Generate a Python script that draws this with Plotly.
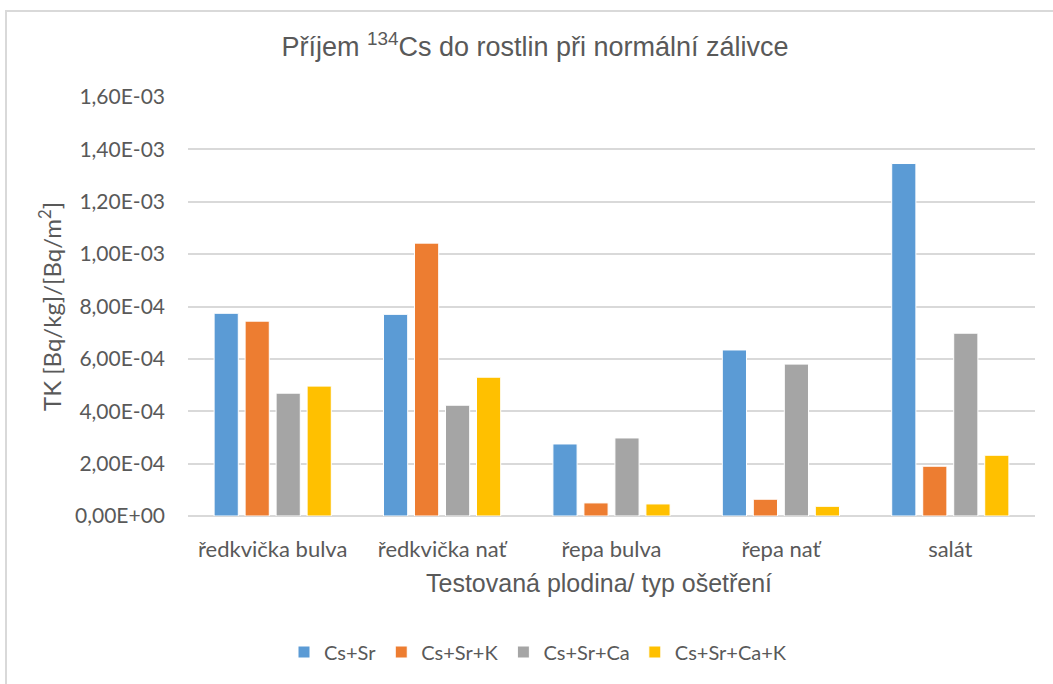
import plotly.graph_objects as go

categories = ["ředkvička bulva", "ředkvička nať", "řepa bulva", "řepa nať", "salát"]
series_names = ["Cs+Sr", "Cs+Sr+K", "Cs+Sr+Ca", "Cs+Sr+Ca+K"]
cs_sr = [7.74e-4, 7.70e-4, 2.75e-4, 6.34e-4, 1.346e-3]
cs_sr_k = [7.44e-4, 1.042e-3, 5.0e-5, 6.4e-5, 1.90e-4]
cs_sr_ca = [4.69e-4, 4.23e-4, 2.98e-4, 5.80e-4, 6.98e-4]
cs_sr_ca_k = [4.96e-4, 5.30e-4, 4.6e-5, 3.7e-5, 2.32e-4]
colors = ["#5B9BD5", "#ED7D31", "#A5A5A5", "#FFC000"]
tick_vals = [0, 2e-4, 4e-4, 6e-4, 8e-4, 1.0e-3, 1.2e-3, 1.4e-3, 1.6e-3]
tick_text = ["0,00E+00", "2,00E-04", "4,00E-04", "6,00E-04", "8,00E-04",
             "1,00E-03", "1,20E-03", "1,40E-03", "1,60E-03"]

W, H = 1053, 684
L, R, T, B = 188, 18, 97, 168
pw, ph = W - L - R, H - T - B

fig = go.Figure()
for name, vals, col in zip(series_names, [cs_sr, cs_sr_k, cs_sr_ca, cs_sr_ca_k], colors):
    fig.add_trace(go.Bar(x=categories, y=vals, name=name,
                         marker=dict(color=col, line=dict(color="white", width=1))))

txt = "#595959"
def px2paper_x(px):
    return (px - L) / pw
def py2paper_y(py):
    return (H - B - py) / ph

fig.update_layout(
    width=W, height=H,
    margin=dict(l=L, r=R, t=T, b=B),
    paper_bgcolor="white", plot_bgcolor="white",
    barmode="group", bargap=0.268, bargroupgap=0.22,
    title=dict(text="Příjem <sup>134</sup>Cs do rostlin při normální zálivce",
               font=dict(family="Liberation Sans, Arial", size=27, color=txt),
               x=535 / W, xanchor="center", xref="container",
               y=1 - 47 / H, yanchor="middle", yref="container"),
    xaxis=dict(showgrid=False, showline=False, ticks="", zeroline=False,
               tickfont=dict(family="Lato", size=22, color=txt),
               ticklabelstandoff=18),
    yaxis=dict(range=[0, 1.6e-3], tickvals=tick_vals, ticktext=tick_text,
               showgrid=True, gridcolor="#D9D9D9", gridwidth=1.5,
               zeroline=True, zerolinecolor="#D9D9D9", zerolinewidth=1.5,
               showline=False, ticks="",
               tickfont=dict(family="Lato", size=21, color=txt),
               ticklabelstandoff=22),
    legend=dict(orientation="h", x=px2paper_x(538), xanchor="center",
                y=py2paper_y(652), yanchor="middle",
                font=dict(family="Lato", size=20, color=txt),
                itemwidth=30, traceorder="normal"),
    showlegend=True,
    annotations=[
        dict(text="Testovaná plodina/ typ ošetření", xref="paper", yref="paper",
             x=px2paper_x(599), y=py2paper_y(583), xanchor="center", yanchor="middle",
             showarrow=False, font=dict(family="Liberation Sans, Arial", size=25, color=txt)),
        dict(text="TK [Bq/kg]/[Bq/m<sup>2</sup>]", xref="paper", yref="paper",
             x=px2paper_x(50), y=py2paper_y(307), xanchor="center", yanchor="middle",
             textangle=-90, showarrow=False,
             font=dict(family="Lato", size=24, color=txt)),
    ],
    shapes=[
        dict(type="rect", xref="paper", yref="paper",
             x0=px2paper_x(6), x1=px2paper_x(1070),
             y0=py2paper_y(700), y1=py2paper_y(11),
             line=dict(color="#D9D9D9", width=2), layer="below"),
    ],
)

fig.write_html("out.html", config={"displayModeBar": False},
               post_script="document.body.style.margin='0';document.body.style.overflow='hidden';")
